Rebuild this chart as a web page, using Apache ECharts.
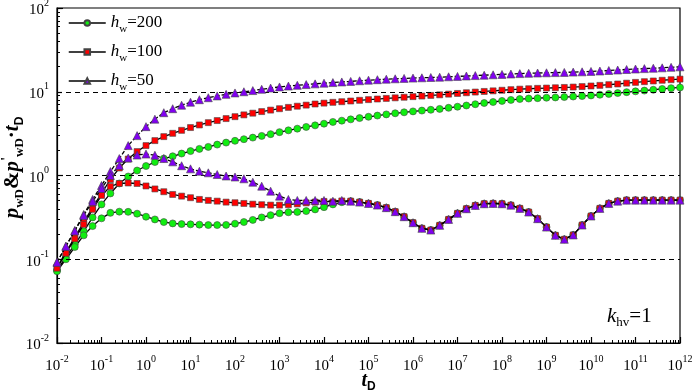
<!DOCTYPE html>
<html><head><meta charset="utf-8">
<script src="https://cdn.jsdelivr.net/npm/echarts@6/dist/echarts.min.js"></script>
<style>html,body{margin:0;padding:0;background:#fff}#c{width:692px;height:390px}</style>
</head><body><div id="c"></div>
<script>
// dimensionless time grid
const tD = [0.01,0.01585,0.02512,0.03981,0.0631,0.1,0.1585,0.2512,0.3981,0.631,
  1,1.585,2.512,3.981,6.31,10,15.85,25.12,39.81,63.1,
  100,158.5,251.2,398.1,631,1e3,1.585e3,2.512e3,3.981e3,6.31e3,
  1e4,1.585e4,2.512e4,3.981e4,6.31e4,1e5,1.585e5,2.512e5,3.981e5,6.31e5,
  1e6,1.585e6,2.512e6,3.981e6,6.31e6,1e7,1.585e7,2.512e7,3.981e7,6.31e7,
  1e8,1.585e8,2.512e8,3.981e8,6.31e8,1e9,1.585e9,2.512e9,3.981e9,6.31e9,
  1e10,1.585e10,2.512e10,3.981e10,6.31e10,1e11,1.585e11,2.512e11,3.981e11,6.31e11,1e12];

const hwValues = ['200','100','50'];

// pressure pwD
const pwD_200 = [0.0740,0.1057,0.1509,0.2154,0.3162,0.4516,0.6105,0.8031,0.973,1.147,
  1.298,1.448,1.594,1.697,1.828,1.957,2.079,2.196,2.339,2.471,
  2.596,2.713,2.834,2.969,3.119,3.295,3.461,3.626,3.799,3.969,
  4.159,4.358,4.516,4.680,4.850,5.026,5.194,5.368,5.533,5.686,
  5.829,5.957,6.089,6.241,6.432,6.629,6.851,7.100,7.337,7.541,
  7.772,7.988,8.187,8.299,8.390,8.483,8.552,8.647,8.767,8.887,
  9.036,9.210,9.414,9.650,9.891,10.11,10.33,10.56,10.80,11.04,11.25];
const pwD_100 = [0.0803,0.121,0.183,0.276,0.416,0.611,0.896,1.228,1.572,1.931,
  2.276,2.610,2.912,3.188,3.461,3.737,4.013,4.276,4.529,4.784,
  5.040,5.295,5.548,5.797,6.039,6.275,6.503,6.721,6.926,7.138,
  7.316,7.478,7.603,7.750,7.900,8.053,8.187,8.322,8.461,8.600,
  8.744,8.889,9.036,9.186,9.364,9.546,9.730,9.918,10.08,10.25,
  10.42,10.59,10.74,10.86,10.98,11.07,11.16,11.25,11.38,11.53,
  11.72,11.92,12.15,12.38,12.66,12.94,13.19,13.45,13.71,13.93,14.16];
const pwD_50 = [0.0921,0.143,0.221,0.343,0.518,0.760,1.116,1.594,2.276,2.994,
  3.831,4.707,5.623,6.275,6.908,7.499,8.034,8.483,8.913,9.312,
  9.676,10.0,10.33,10.71,11.07,11.41,11.69,11.95,12.18,12.42,
  12.66,12.87,13.09,13.30,13.52,13.75,13.93,14.13,14.28,14.44,
  14.56,14.68,14.80,14.92,15.09,15.25,15.42,15.59,15.76,15.94,
  16.11,16.29,16.47,16.61,16.74,16.84,16.93,17.02,17.16,17.30,
  17.50,17.69,17.93,18.18,18.43,18.68,18.89,19.10,19.31,19.58,19.85];

// derivative pwD'·tD
const dpwD_200 = [0.0720,0.100,0.140,0.193,0.249,0.308,0.358,0.370,0.368,0.350,
  0.322,0.299,0.278,0.268,0.263,0.261,0.259,0.256,0.256,0.257,
  0.266,0.278,0.295,0.316,0.336,0.355,0.364,0.367,0.376,0.394,
  0.419,0.452,0.480,0.494,0.481,0.464,0.443,0.413,0.370,0.322,
  0.273,0.234,0.223,0.254,0.299,0.353,0.401,0.439,0.460,0.464,
  0.460,0.442,0.405,0.366,0.305,0.242,0.193,0.173,0.195,0.256,
  0.328,0.405,0.464,0.494,0.508,0.508,0.508,0.508,0.508,0.508,0.508];
const dpwD_100 = [0.0781,0.118,0.175,0.261,0.394,0.578,0.740,0.803,0.814,0.803,
  0.750,0.691,0.640,0.594,0.567,0.543,0.518,0.504,0.494,0.481,
  0.473,0.464,0.455,0.448,0.443,0.443,0.448,0.458,0.471,0.481,
  0.490,0.484,0.497,0.494,0.481,0.464,0.443,0.413,0.370,0.322,
  0.273,0.234,0.223,0.254,0.299,0.353,0.401,0.439,0.460,0.464,
  0.460,0.442,0.405,0.366,0.305,0.242,0.193,0.173,0.195,0.256,
  0.328,0.405,0.464,0.494,0.508,0.508,0.508,0.508,0.508,0.508,0.508];
const dpwD_50 = [0.0921,0.143,0.218,0.334,0.490,0.700,1.0,1.315,1.616,1.754,
  1.803,1.745,1.594,1.456,1.308,1.201,1.125,1.077,1.028,0.986,
  0.960,0.913,0.832,0.746,0.650,0.567,0.518,0.504,0.504,0.504,
  0.504,0.494,0.504,0.494,0.481,0.464,0.443,0.413,0.370,0.322,
  0.273,0.234,0.223,0.254,0.299,0.353,0.401,0.439,0.460,0.464,
  0.460,0.442,0.405,0.366,0.305,0.242,0.193,0.173,0.195,0.256,
  0.328,0.405,0.464,0.494,0.508,0.508,0.508,0.508,0.508,0.508,0.508];

const xTickValues = [1e-2,1e-1,1e0,1e1,1e2,1e3,1e4,1e5,1e6,1e7,1e8,1e9,1e10,1e11,1e12];
const yTickValues = [1e-2,1e-1,1e0,1e1,1e2];
const refLevels = [0.1, 1, 10];

function minorOf(majors) {
  const out = [];
  for (let i = 0; i < majors.length - 1; i++) for (let m = 2; m <= 9; m++) out.push(majors[i] * m);
  return out;
}
const serif = 'Liberation Serif';
const sans = 'Liberation Sans';
const pairs = ys => tD.map((t, i) => [t, ys[i]]);
const labelFmt = v => '{b|10}{s|' + Math.round(Math.log10(v)) + '}';
const tickRich = {
  b: {fontFamily: serif, fontSize: 15, color: '#000', lineHeight: 20, verticalAlign: 'bottom'},
  s: {fontFamily: serif, fontSize: 10, color: '#000', lineHeight: 12, verticalAlign: 'top'}
};

const styles = {
  '200': {symbol: 'circle', size: 7, color: '#10ee10', dash: 'solid'},
  '100': {symbol: 'rect', size: 6, color: '#ff0000', dash: 'solid'},
  '50': {symbol: 'triangle', size: 8, color: '#8000f0', dash: [4, 2]}
};
const pData = {'200': pwD_200, '100': pwD_100, '50': pwD_50};
const dData = {'200': dpwD_200, '100': dpwD_100, '50': dpwD_50};

const series = [];
hwValues.forEach((hw, k) => {
  const st = styles[hw];
  [['h' + hw, pData[hw]], ['d' + hw, dData[hw]]].forEach(([name, ys]) => {
    series.push({
      name, type: 'line', xAxisIndex: 0, yAxisIndex: 0, data: pairs(ys),
      symbol: st.symbol, symbolSize: st.size, showSymbol: true, showAllSymbol: true,
      lineStyle: {color: '#000', width: 1.3, type: st.dash},
      itemStyle: {color: st.color, borderColor: '#444', borderWidth: 0.6},
      emphasis: {disabled: true}, z: 3 + k
    });
  });
});
series.push({
  name: 'ref', type: 'line', xAxisIndex: 0, yAxisIndex: 0, data: [], z: 2,
  markLine: {
    silent: true, symbol: ['none', 'none'], label: {show: false},
    lineStyle: {type: [5, 4], color: '#000', width: 1},
    data: refLevels.map(v => ({yAxis: v}))
  }
});

const chart = echarts.init(document.getElementById('c'));
chart.setOption({
  animation: false,
  backgroundColor: '#fff',
  grid: {left: 57, right: 12, top: 8, bottom: 47, show: true, borderColor: '#000', borderWidth: 1.2, outerBoundsMode: 'none'},
  xAxis: [{
    type: 'log', logBase: 10, min: 1e-2, max: 1e12, position: 'bottom',
    axisLine: {lineStyle: {color: '#000', width: 1.2}},
    axisTick: {inside: true, length: 6, lineStyle: {color: '#000', width: 1.2}, customValues: xTickValues},
    axisLabel: {margin: 11, formatter: labelFmt, rich: tickRich, customValues: xTickValues},
    splitLine: {show: false},
    name: '{t|t}{d|D}', nameLocation: 'middle', nameGap: 26, nameMoveOverlap: false,
    nameTextStyle: {rich: {
      t: {fontFamily: serif, fontStyle: 'italic', fontWeight: 'bold', fontSize: 20, lineHeight: 24, color: '#000'},
      d: {fontFamily: sans, fontWeight: 'bold', fontSize: 12, lineHeight: 12, verticalAlign: 'bottom', color: '#000'}
    }}
  }, {
    type: 'log', logBase: 10, min: 1e-2, max: 1e12, position: 'bottom',
    axisLine: {show: false},
    axisTick: {inside: true, length: 3, lineStyle: {color: '#000', width: 1}, customValues: minorOf(xTickValues)},
    axisLabel: {show: false}, splitLine: {show: false}
  }],
  yAxis: [{
    type: 'log', logBase: 10, min: 1e-2, max: 1e2, position: 'left',
    axisLine: {lineStyle: {color: '#000', width: 1.2}},
    axisTick: {inside: true, length: 6, lineStyle: {color: '#000', width: 1.2}, customValues: yTickValues},
    axisLabel: {margin: 8, formatter: labelFmt, rich: tickRich, customValues: yTickValues},
    splitLine: {show: false},
    name: "{p|p}{s|wD}{a|&}{p|p}{sp|'}{s|wD}{a|·}{p|t}{sd|D}",
    nameLocation: 'middle', nameRotate: 90, nameGap: 31, nameMoveOverlap: false,
    nameTextStyle: {padding: [0, 0, 0, 16], rich: {
      p: {fontFamily: serif, fontStyle: 'italic', fontWeight: 'bold', fontSize: 21, lineHeight: 26, color: '#000'},
      a: {fontFamily: serif, fontWeight: 'bold', fontSize: 21, lineHeight: 26, color: '#000'},
      s: {fontFamily: serif, fontWeight: 'bold', fontSize: 13, lineHeight: 13, verticalAlign: 'bottom', color: '#000'},
      sp: {fontFamily: serif, fontWeight: 'bold', fontSize: 15, lineHeight: 15, verticalAlign: 'top', color: '#000'},
      sd: {fontFamily: sans, fontWeight: 'bold', fontSize: 12, lineHeight: 12, verticalAlign: 'bottom', color: '#000'}
    }}
  }, {
    type: 'log', logBase: 10, min: 1e-2, max: 1e2, position: 'left',
    axisLine: {show: false},
    axisTick: {inside: true, length: 3, lineStyle: {color: '#000', width: 1}, customValues: minorOf(yTickValues)},
    axisLabel: {show: false}, splitLine: {show: false}
  }],
  legend: {
    data: hwValues.map(hw => 'h' + hw),
    orient: 'vertical', left: 62, top: 9.5, padding: [5, 6, 5, 6], backgroundColor: '#fff',
    itemWidth: 37, itemHeight: 7, itemGap: 8.5, selectedMode: false,
    lineStyle: {type: 'solid', width: 1.5, color: '#000'},
    formatter: name => '{i|h}{s|w}{n|=' + name.slice(1) + '}',
    textStyle: {rich: {
      i: {fontFamily: serif, fontStyle: 'italic', fontSize: 17, lineHeight: 24, color: '#000'},
      s: {fontFamily: serif, fontSize: 11, lineHeight: 11, verticalAlign: 'bottom', color: '#000'},
      n: {fontFamily: serif, fontSize: 17, lineHeight: 24, color: '#000'}
    }}
  },
  graphic: [{
    type: 'text', left: 607, top: 306, z: 10,
    style: {
      text: '{k|k}{s|hv}{n|=1}',
      rich: {
        k: {fontFamily: serif, fontStyle: 'italic', fontSize: 21, lineHeight: 26, fill: '#000'},
        s: {fontFamily: serif, fontSize: 13, lineHeight: 13, verticalAlign: 'bottom', fill: '#000'},
        n: {fontFamily: serif, fontSize: 21, lineHeight: 26, fill: '#000'}
      }
    }
  }],
  series
});
</script></body></html>
